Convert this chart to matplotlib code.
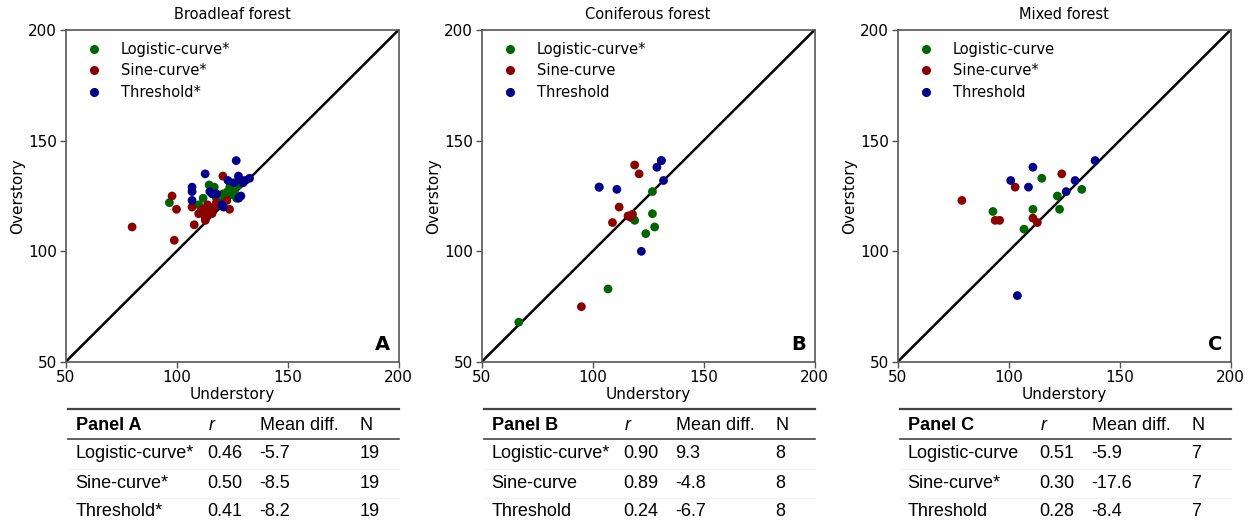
import matplotlib
matplotlib.use("Agg")
import matplotlib.pyplot as plt
from matplotlib.lines import Line2D

# ---------------- data ----------------
titles = ["Broadleaf forest", "Coniferous forest", "Mixed forest"]
panel_letters = ["A", "B", "C"]
series_names = ["Logistic-curve", "Sine-curve", "Threshold"]
legend_labels = [
    ["Logistic-curve*", "Sine-curve*", "Threshold*"],
    ["Logistic-curve*", "Sine-curve", "Threshold"],
    ["Logistic-curve", "Sine-curve*", "Threshold"],
]

# Panel A (Broadleaf)
a_log_x = [96.8, 110, 112, 114.7, 117, 116, 124, 123, 121, 124, 127, 120, 113, 118, 122, 125, 119, 128, 126]
a_log_y = [122, 121, 124, 130, 129, 128, 129, 127, 126, 125.5, 124, 122, 115, 124, 124, 126, 121, 130, 127]
a_sin_x = [80, 98, 100, 99, 107, 108, 110, 111, 113, 114, 115, 116, 117, 113, 120.9, 122.7, 123.9, 118, 112]
a_sin_y = [111, 125, 119, 105, 120, 112, 117, 118, 116, 121, 119, 117, 120, 114, 134, 123, 119, 122, 119]
a_thr_x = [112.9, 107, 107, 107, 115, 116, 126.9, 127.9, 129.5, 132.9, 123.2, 129, 120.5, 121.2, 126, 130, 118, 128, 131]
a_thr_y = [135, 129, 127, 123, 127, 126, 141, 134, 132, 133, 132, 125, 121, 120, 131, 131, 126, 124, 132]

# Panel B (Coniferous)
b_log_x = [66.8, 107, 119, 118, 124, 128, 127, 127]
b_log_y = [68, 83, 114, 115, 108, 111, 117, 127]
b_sin_x = [95, 109, 112, 116, 118, 117, 119, 121]
b_sin_y = [75, 113, 120, 116, 116.7, 115.5, 139, 135]
b_thr_x = [122, 103, 111, 129, 131, 132, 131, 103]
b_thr_y = [100, 129, 128, 138, 141, 132, 141, 129]

# Panel C (Mixed)
c_log_x = [93, 107, 111, 115, 122, 123, 133]
c_log_y = [118, 110, 119, 133, 125, 119, 128]
c_sin_x = [79, 94, 96, 103, 111, 113, 124]
c_sin_y = [123, 114, 114, 129, 115, 113, 135]
c_thr_x = [104, 101, 109, 111, 126, 130, 139]
c_thr_y = [80, 132, 129, 138, 127, 132, 141]

panel_data = [
    [(a_log_x, a_log_y), (a_sin_x, a_sin_y), (a_thr_x, a_thr_y)],
    [(b_log_x, b_log_y), (b_sin_x, b_sin_y), (b_thr_x, b_thr_y)],
    [(c_log_x, c_log_y), (c_sin_x, c_sin_y), (c_thr_x, c_thr_y)],
]

table_headers = ["Panel A", "Panel B", "Panel C"]
r_values = [["0.46", "0.50", "0.41"], ["0.90", "0.89", "0.24"], ["0.51", "0.30", "0.28"]]
mean_diffs = [["-5.7", "-8.5", "-8.2"], ["9.3", "-4.8", "-6.7"], ["-5.9", "-17.6", "-8.4"]]
n_values = [["19", "19", "19"], ["8", "8", "8"], ["7", "7", "7"]]

ticks = [50, 100, 150, 200]
colors = ["#006400", "#8b0000", "#00008b"]

# ---------------- figure ----------------
W, H = 1252, 525
fig = plt.figure(figsize=(W / 100, H / 100), dpi=100)
plt.rcParams["font.family"] = ["DejaVu Sans"]

def fx(px):
    return px / W

def fy(py):
    return 1 - py / H

ax_lefts = [65.5, 481.5, 897.5]
ax_w = 333
ax_top, ax_bot = 30, 362

for i in range(3):
    ax = fig.add_axes([fx(ax_lefts[i]), fy(ax_bot), fx(ax_w), (ax_bot - ax_top) / H])
    ax.plot([50, 200], [50, 200], color="black", lw=1.8, zorder=1)
    for j in range(3):
        xs, ys = panel_data[i][j]
        ax.scatter(xs, ys, s=40, color=colors[j], edgecolors="none",
                   zorder=3, label=legend_labels[i][j])
    ax.set_xlim(50, 200)
    ax.set_ylim(50, 200)
    ax.set_xticks(ticks)
    ax.set_yticks(ticks)
    ax.tick_params(labelsize=11, length=4, width=1, color="#555555", direction="out", pad=2)
    for sp in ax.spines.values():
        sp.set_color("#555555")
        sp.set_linewidth(1.2)
    ax.set_title(titles[i], fontsize=10.5, pad=8)
    ax.set_xlabel("Understory", fontsize=11, labelpad=1)
    ax.set_ylabel("Overstory", fontsize=11, labelpad=2)
    handles = [Line2D([], [], marker="o", ls="none", color=colors[j], markersize=5.5)
               for j in range(3)]
    ax.legend(handles, legend_labels[i], loc="upper left", frameon=False, fontsize=10.5,
              handletextpad=0.85, borderaxespad=0, labelspacing=0.45,
              bbox_to_anchor=(0.024, 0.982))
    ax.text(0.975, 0.025, panel_letters[i], transform=ax.transAxes, ha="right", va="bottom",
            fontsize=14, fontweight="bold")

    # ---- table ----
    L = ax_lefts[i] + 2
    R = ax_lefts[i] + ax_w
    fig.add_artist(Line2D([fx(L), fx(R)], [fy(409), fy(409)], color="#444444", lw=1.6))
    fig.add_artist(Line2D([fx(L), fx(R)], [fy(438.5), fy(438.5)], color="#444444", lw=1.2))
    for yl in (468.5, 497.5):
        fig.add_artist(Line2D([fx(L), fx(R)], [fy(yl), fy(yl)], color="#f2f2f2", lw=1.0))
    tfont = dict(family=["Liberation Sans", "DejaVu Sans"], fontsize=13, va="center", ha="left")
    offs = [8, 140, 192, 292]
    fig.text(fx(L + offs[0]), fy(425), table_headers[i], fontweight="bold", **tfont)
    fig.text(fx(L + offs[1] + 1), fy(425), "r", style="italic", **tfont)
    fig.text(fx(L + offs[2]), fy(425), "Mean diff.", **tfont)
    fig.text(fx(L + offs[3]), fy(425), "N", **tfont)
    row_y = [454, 483, 512]
    for j in range(3):
        fig.text(fx(L + offs[0]), fy(row_y[j]), legend_labels[i][j], **tfont)
        fig.text(fx(L + offs[1]), fy(row_y[j]), r_values[i][j], **tfont)
        fig.text(fx(L + offs[2]), fy(row_y[j]), mean_diffs[i][j], **tfont)
        fig.text(fx(L + offs[3]), fy(row_y[j]), n_values[i][j], **tfont)

fig.savefig("out.png", dpi=100)
